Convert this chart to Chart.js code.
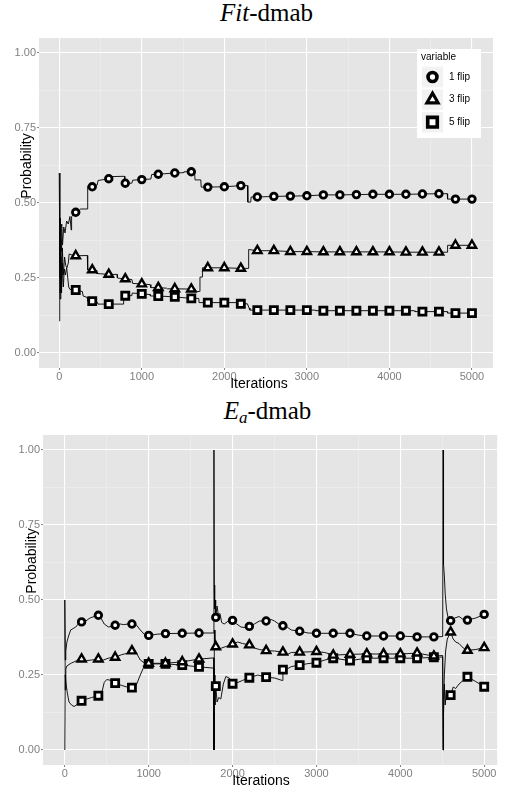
<!DOCTYPE html>
<html>
<head>
<meta charset="utf-8">
<script src="https://cdn.jsdelivr.net/npm/chart.js@4.4.0/dist/chart.umd.min.js"></script>
<style>
  body { margin: 0; background: #fff; width: 505px; height: 790px; position: relative; overflow: hidden; }
  canvas { position: absolute; left: 0; }
  .title { position: absolute; width: 505px; text-align: center; font-family: 'Liberation Serif', serif; font-size: 25px; line-height: 25px; color: #000; }
  .title sub { font-size: 17px; line-height: 0; vertical-align: -4px; }
</style>
</head>
<body>
<div class="title" style="top:0px; left:14px"><i>Fit</i>-dmab</div>
<canvas id="fitChart" width="505" height="395" style="top:0"></canvas>
<div class="title" style="top:398px; left:15px"><i>E</i><sub><i>a</i></sub>-dmab</div>
<canvas id="eaChart" width="505" height="395" style="top:395px"></canvas>
<script>
// iterations where the markers are drawn
const markIters = [200, 400, 600, 800, 1000, 1200, 1400, 1600, 1800, 2000, 2200, 2400, 2600,
  2800, 3000, 3200, 3400, 3600, 3800, 4000, 4200, 4400, 4600, 4800, 5000];

const seriesNames = ['1 flip', '3 flip', '5 flip'];

// tick positions (minor ones carry no label)
const xTicks = [0, 500, 1000, 1500, 2000, 2500, 3000, 3500, 4000, 4500, 5000];
const yTicks = [0, 0.125, 0.25, 0.375, 0.5, 0.625, 0.75, 0.875, 1];

// Fit-dmab : values at the markers
const fitFlip1 = [0.469, 0.554, 0.581, 0.566, 0.578, 0.596, 0.600, 0.604, 0.553, 0.554, 0.558, 0.520, 0.522,
  0.523, 0.524, 0.527, 0.527, 0.528, 0.529, 0.529, 0.529, 0.530, 0.531, 0.513, 0.513];
const fitFlip3 = [0.324, 0.277, 0.262, 0.247, 0.230, 0.218, 0.214, 0.213, 0.284, 0.284, 0.282, 0.341, 0.341,
  0.338, 0.338, 0.337, 0.337, 0.337, 0.337, 0.337, 0.336, 0.336, 0.336, 0.359, 0.359];
const fitFlip5 = [0.210, 0.173, 0.163, 0.191, 0.197, 0.190, 0.187, 0.182, 0.168, 0.168, 0.164, 0.143, 0.143,
  0.143, 0.143, 0.141, 0.141, 0.141, 0.141, 0.141, 0.141, 0.138, 0.138, 0.133, 0.133];

// Fit-dmab : running traces [iteration, probability]
const fitTrace1 = [[0,0.60],[8,0.30],[14,0.45],[22,0.34],[30,0.43],[40,0.36],[55,0.42],[70,0.40],[90,0.44],
  [110,0.43],[130,0.455],[145,0.41],[150,0.455],[170,0.46],[200,0.469],[230,0.472],[260,0.48],[340,0.48],[345,0.556],
  [400,0.554],[460,0.56],[470,0.575],[600,0.581],[620,0.588],[790,0.589],[795,0.566],[800,0.566],[880,0.566],
  [890,0.576],[1000,0.578],[1110,0.58],[1120,0.595],[1200,0.596],[1400,0.600],[1500,0.601],[1510,0.604],
  [1600,0.604],[1640,0.604],[1645,0.577],[1715,0.577],[1720,0.553],[1800,0.553],[2000,0.554],[2200,0.558],
  [2280,0.558],[2285,0.503],[2320,0.503],[2325,0.520],[2400,0.520],[2600,0.522],[2800,0.523],[3000,0.524],
  [3200,0.527],[3400,0.527],[3600,0.528],[3800,0.529],[4000,0.529],[4200,0.529],[4400,0.530],[4600,0.531],
  [4700,0.531],[4705,0.513],[4800,0.513],[5000,0.513]];
const fitTrace3 = [[0,0.25],[6,0.45],[12,0.20],[20,0.38],[28,0.22],[38,0.35],[50,0.26],[65,0.32],[80,0.29],
  [95,0.285],[110,0.30],[120,0.33],[160,0.326],[200,0.324],[340,0.325],[345,0.277],[400,0.277],[450,0.275],
  [455,0.265],[600,0.262],[700,0.262],[705,0.25],[800,0.247],[880,0.245],[890,0.232],[1000,0.230],[1100,0.228],
  [1110,0.218],[1200,0.218],[1300,0.216],[1310,0.214],[1400,0.214],[1600,0.213],[1650,0.213],[1660,0.205],
  [1700,0.205],[1705,0.253],[1730,0.253],[1735,0.284],[1800,0.284],[2000,0.284],[2200,0.282],[2290,0.282],
  [2295,0.345],[2400,0.341],[2600,0.341],[2800,0.338],[3000,0.338],[3200,0.337],[3400,0.337],[3600,0.337],
  [3800,0.337],[4000,0.337],[4200,0.336],[4400,0.336],[4600,0.336],[4700,0.336],[4705,0.359],[4800,0.359],
  [5000,0.359]];
const fitTrace5 = [[0,0.107],[6,0.35],[12,0.18],[20,0.32],[28,0.20],[38,0.30],[50,0.22],[62,0.28],[75,0.26],
  [90,0.285],[100,0.26],[115,0.22],[130,0.212],[200,0.210],[280,0.205],[290,0.19],[340,0.185],[345,0.173],
  [400,0.173],[460,0.17],[470,0.163],[600,0.163],[780,0.163],[785,0.205],[795,0.205],[800,0.191],[880,0.191],
  [885,0.2],[1000,0.197],[1100,0.195],[1105,0.19],[1200,0.190],[1400,0.187],[1600,0.182],[1690,0.182],
  [1695,0.168],[1800,0.168],[2000,0.168],[2150,0.168],[2155,0.164],[2200,0.164],[2280,0.164],[2300,0.15],
  [2310,0.143],[2400,0.143],[2600,0.143],[2800,0.143],[3000,0.143],[3100,0.143],[3110,0.141],[3200,0.141],
  [4200,0.141],[4300,0.141],[4310,0.138],[4400,0.138],[4600,0.138],[4700,0.138],[4705,0.133],[4800,0.133],
  [5000,0.133]];

// Ea-dmab : values at the markers
const eaFlip1 = [0.427, 0.449, 0.416, 0.420, 0.382, 0.388, 0.389, 0.390, 0.442, 0.432, 0.412, 0.430, 0.414,
  0.396, 0.389, 0.389, 0.389, 0.380, 0.380, 0.380, 0.377, 0.377, 0.431, 0.433, 0.452];
const eaFlip3 = [0.303, 0.303, 0.309, 0.330, 0.289, 0.289, 0.294, 0.303, 0.344, 0.353, 0.350, 0.331, 0.326,
  0.326, 0.328, 0.316, 0.319, 0.320, 0.320, 0.320, 0.323, 0.313, 0.393, 0.332, 0.341];
const eaFlip5 = [0.164, 0.181, 0.223, 0.208, 0.287, 0.287, 0.283, 0.277, 0.213, 0.221, 0.241, 0.243, 0.268,
  0.283, 0.291, 0.306, 0.298, 0.306, 0.306, 0.306, 0.306, 0.309, 0.183, 0.244, 0.211];

// Ea-dmab : running traces [iteration, probability]
const eaTrace1 = [[0,0.50],[5,0.30],[12,0.33],[25,0.36],[45,0.38],[70,0.40],[100,0.405],[130,0.41],[160,0.42],
  [200,0.427],[250,0.43],[300,0.44],[350,0.445],[400,0.449],[430,0.44],[470,0.42],[520,0.41],[560,0.412],
  [600,0.416],[660,0.42],[700,0.418],[760,0.42],[800,0.420],[850,0.418],[900,0.40],[950,0.385],[1000,0.382],
  [1100,0.386],[1200,0.388],[1400,0.389],[1600,0.390],[1775,0.390],[1778,1.00],[1782,0.55],[1787,0.47],
  [1792,0.50],[1797,0.46],[1800,0.442],[1815,0.48],[1830,0.45],[1850,0.455],[1870,0.425],[1900,0.42],
  [1950,0.43],[2000,0.432],[2050,0.42],[2100,0.41],[2150,0.408],[2200,0.412],[2260,0.42],[2320,0.43],
  [2400,0.430],[2460,0.435],[2500,0.43],[2550,0.42],[2600,0.414],[2650,0.41],[2700,0.40],[2800,0.396],
  [2900,0.39],[3000,0.389],[3200,0.389],[3400,0.389],[3500,0.383],[3600,0.380],[3800,0.380],[4000,0.380],
  [4200,0.377],[4400,0.377],[4505,0.378],[4510,1.00],[4515,0.62],[4525,0.58],[4535,0.52],[4550,0.47],
  [4570,0.44],[4600,0.431],[4650,0.44],[4700,0.445],[4750,0.435],[4800,0.433],[4900,0.44],[5000,0.452]];
const eaTrace3 = [[0,0.50],[5,0.20],[12,0.27],[25,0.28],[50,0.285],[80,0.29],[120,0.295],[160,0.30],[200,0.303],
  [260,0.298],[320,0.30],[400,0.303],[460,0.30],[530,0.307],[600,0.309],[680,0.318],[740,0.322],[800,0.330],
  [850,0.325],[900,0.30],[950,0.29],[1000,0.289],[1200,0.289],[1400,0.294],[1600,0.303],[1775,0.307],
  [1778,0.00],[1783,0.40],[1790,0.36],[1800,0.344],[1830,0.335],[1870,0.34],[1920,0.345],[2000,0.353],
  [2060,0.36],[2120,0.355],[2200,0.350],[2260,0.34],[2320,0.335],[2400,0.331],[2500,0.33],[2600,0.326],
  [2650,0.318],[2700,0.325],[2800,0.326],[3000,0.328],[3100,0.325],[3200,0.316],[3400,0.319],[3600,0.320],
  [3800,0.320],[4000,0.320],[4200,0.323],[4400,0.313],[4505,0.315],[4510,0.00],[4515,0.15],[4525,0.25],
  [4540,0.33],[4560,0.37],[4600,0.393],[4630,0.37],[4660,0.36],[4700,0.355],[4750,0.34],[4800,0.332],
  [4900,0.335],[5000,0.341]];
const eaTrace5 = [[0,0.00],[5,0.25],[15,0.22],[30,0.19],[50,0.16],[80,0.15],[110,0.145],[140,0.15],[170,0.16],
  [200,0.164],[260,0.17],[320,0.175],[400,0.181],[440,0.19],[470,0.225],[500,0.235],[550,0.232],[600,0.223],
  [680,0.215],[740,0.21],[800,0.208],[850,0.215],[900,0.25],[950,0.282],[1000,0.287],[1200,0.287],[1400,0.283],
  [1600,0.277],[1775,0.273],[1778,0.00],[1783,0.25],[1790,0.15],[1800,0.213],[1815,0.16],[1835,0.175],
  [1860,0.17],[1890,0.22],[1920,0.245],[1960,0.24],[2000,0.221],[2060,0.225],[2120,0.232],[2200,0.241],
  [2300,0.25],[2400,0.243],[2500,0.24],[2590,0.232],[2600,0.268],[2650,0.27],[2700,0.278],[2800,0.283],
  [2900,0.288],[3000,0.291],[3100,0.30],[3200,0.306],[3400,0.298],[3600,0.306],[3800,0.306],[4000,0.306],
  [4200,0.306],[4400,0.309],[4505,0.31],[4510,0.00],[4515,0.12],[4525,0.22],[4535,0.15],[4550,0.2],
  [4565,0.17],[4600,0.183],[4630,0.21],[4660,0.205],[4700,0.22],[4750,0.232],[4800,0.244],[4900,0.228],
  [5000,0.211]];

// marker look for each series
const markerStyle = [
  { pointStyle: 'circle', radius: 3.3, border: 2.8 },
  { pointStyle: 'triangle', radius: 4.8, border: 2.4 },
  { pointStyle: 'rect', radius: 5.0, border: 2.8 }
];

const sansFont = "'Liberation Sans', Arial, sans-serif";
const tickGrey = '#7f7f7f';

// grey panel behind the grid
const panelBg = {
  id: 'panelBg',
  beforeDraw(chart) {
    const a = chart.chartArea, ctx = chart.ctx;
    ctx.save();
    ctx.fillStyle = '#e5e5e5';
    ctx.fillRect(a.left, a.top, a.right - a.left, a.bottom - a.top);
    ctx.restore();
  }
};

// axis titles at fixed spots (ggplot puts them a bit off centre)
const axisTitles = {
  id: 'axisTitles',
  afterDraw(chart, args, opts) {
    const ctx = chart.ctx;
    ctx.save();
    ctx.fillStyle = '#000';
    ctx.font = '14px ' + sansFont;
    ctx.textAlign = 'center';
    ctx.textBaseline = 'middle';
    ctx.fillText(opts.xText, opts.xPos[0], opts.xPos[1]);
    ctx.translate(opts.yPos[0], opts.yPos[1]);
    ctx.rotate(-Math.PI / 2);
    ctx.fillText(opts.yText, 0, 0);
    ctx.restore();
  }
};

// ggplot style key box inside the panel
const keyBox = {
  id: 'keyBox',
  afterDraw(chart, args, opts) {
    if (!opts.show) return;
    const ctx = chart.ctx;
    ctx.save();
    ctx.fillStyle = '#fff';
    ctx.fillRect(opts.x, opts.y, opts.w, opts.h);
    ctx.fillStyle = '#000';
    ctx.font = '10px ' + sansFont;
    ctx.textBaseline = 'middle';
    ctx.fillText(opts.title, opts.x + 4, opts.y + 8);
    seriesNames.forEach((name, i) => {
      const cy = opts.y + 28 + i * 22.6;
      const cx = opts.x + 15.5;
      ctx.fillStyle = '#f2f2f2';
      ctx.fillRect(cx - 10.5, cy - 10.3, 21, 20.6);
      const st = markerStyle[i];
      ctx.fillStyle = '#fff';
      ctx.strokeStyle = '#000';
      ctx.lineWidth = st.border * 1.3;
      Chart.helpers.drawPoint(ctx, { pointStyle: st.pointStyle, radius: st.radius * 1.35, borderWidth: st.border * 1.3, rotation: 0 }, cx, cy);
      ctx.fillStyle = '#000';
      ctx.fillText(name, opts.x + 32, cy);
    });
    ctx.restore();
  }
};

function isMajor(v, step) {
  return Math.abs(v / step - Math.round(v / step)) < 1e-9;
}

function makePanel(canvasId, traces, marks, cfg) {
  const datasets = [];
  traces.forEach(tr => {
    datasets.push({
      data: tr.map(p => ({ x: p[0], y: p[1] })),
      borderColor: '#000',
      borderWidth: 0.9,
      pointRadius: 0,
      tension: 0,
      order: 1
    });
  });
  marks.forEach((vals, i) => {
    datasets.push({
      label: seriesNames[i],
      data: markIters.map((x, j) => ({ x: x, y: vals[j] })),
      showLine: false,
      pointStyle: markerStyle[i].pointStyle,
      pointRadius: markerStyle[i].radius,
      pointBorderWidth: markerStyle[i].border,
      pointBackgroundColor: '#fff',
      pointBorderColor: '#000',
      order: 0
    });
  });

  return new Chart(document.getElementById(canvasId), {
    type: 'line',
    data: { datasets: datasets },
    plugins: [panelBg, axisTitles, keyBox],
    options: {
      responsive: false,
      animation: false,
      devicePixelRatio: 1,
      layout: { padding: { top: cfg.padTop, right: cfg.padRight, left: 0, bottom: 0 } },
      plugins: {
        legend: { display: false },
        tooltip: { enabled: false },
        axisTitles: { xText: 'Iterations', yText: 'Probability', xPos: cfg.xTitle, yPos: cfg.yTitle },
        keyBox: cfg.key
      },
      scales: {
        x: {
          type: 'linear',
          min: cfg.xMin,
          max: cfg.xMax,
          afterBuildTicks: s => { s.ticks = xTicks.map(v => ({ value: v })); },
          afterFit: s => { s.height = cfg.xAxisH; },
          border: { display: false },
          grid: {
            color: c => (c.tick && isMajor(c.tick.value, 1000)) ? '#ffffff' : '#f2f2f2',
            lineWidth: c => (c.tick && isMajor(c.tick.value, 1000)) ? 1.1 : 0.55,
            tickColor: c => (c.tick && isMajor(c.tick.value, 1000)) ? tickGrey : 'rgba(0,0,0,0)',
            tickWidth: 1,
            tickLength: 2
          },
          ticks: {
            autoSkip: false,
            maxRotation: 0,
            padding: 0,
            color: tickGrey,
            font: { family: sansFont, size: 11 },
            callback: v => isMajor(v, 1000) ? String(v) : ''
          }
        },
        y: {
          min: -0.05,
          max: 1.05,
          afterBuildTicks: s => { s.ticks = yTicks.map(v => ({ value: v })); },
          afterFit: s => { s.width = cfg.yAxisW; },
          border: { display: false },
          grid: {
            color: c => (c.tick && isMajor(c.tick.value, 0.25)) ? '#ffffff' : '#f2f2f2',
            lineWidth: c => (c.tick && isMajor(c.tick.value, 0.25)) ? 1.1 : 0.55,
            tickColor: c => (c.tick && isMajor(c.tick.value, 0.25)) ? tickGrey : 'rgba(0,0,0,0)',
            tickWidth: 1,
            tickLength: 2
          },
          ticks: {
            autoSkip: false,
            padding: 1,
            color: tickGrey,
            font: { family: sansFont, size: 11 },
            callback: v => isMajor(v, 0.25) ? v.toFixed(2) : ''
          }
        }
      }
    }
  });
}

makePanel('fitChart', [fitTrace1, fitTrace3, fitTrace5], [fitFlip1, fitFlip3, fitFlip5], {
  padTop: 38, padRight: 12, yAxisW: 39, xAxisH: 27,
  xMin: -245, xMax: 5255,
  xTitle: [259, 384], yTitle: [27, 166],
  key: { show: true, x: 417, y: 49, w: 64, h: 89, title: 'variable' }
});

makePanel('eaChart', [eaTrace1, eaTrace3, eaTrace5], [eaFlip1, eaFlip3, eaFlip5], {
  padTop: 40, padRight: 5, yAxisW: 43, xAxisH: 25,
  xMin: -260, xMax: 5155,
  xTitle: [261, 386], yTitle: [32, 166],
  key: { show: false }
});
</script>
</body>
</html>
